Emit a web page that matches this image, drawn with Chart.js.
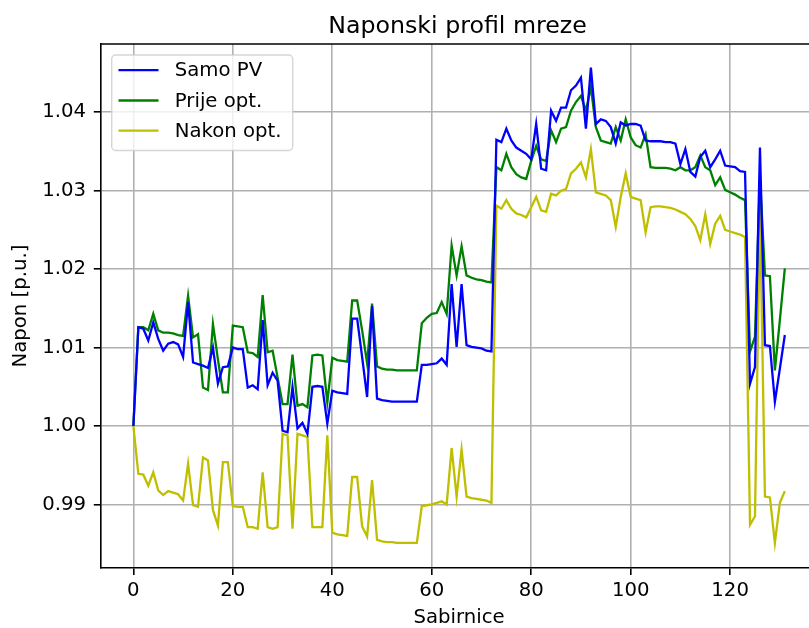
<!DOCTYPE html>
<html>
<head>
<meta charset="utf-8">
<script src="https://cdn.jsdelivr.net/npm/chart.js@4/dist/chart.umd.min.js"></script>
<style>
  html, body { margin: 0; padding: 0; background: #ffffff; overflow: hidden; }
  canvas { display: block; }
</style>
</head>
<body>
<canvas id="profil" width="820" height="628"></canvas>
<script>
// Bus numbers (Sabirnice) 0..131
const buses = Array.from({ length: 132 }, (_, i) => i);

// Voltage per bus [p.u.] - PV only
const samoPV = [
  1.0000, 1.0126, 1.0124, 1.0109, 1.0132, 1.0111, 1.0096, 1.0105, 1.0107, 1.0104,
  1.0088, 1.0158, 1.0081, 1.0079, 1.0077, 1.0074, 1.0100, 1.0054, 1.0075, 1.0076,
  1.0100, 1.0098, 1.0098, 1.0049, 1.0052, 1.0047, 1.0135, 1.0052, 1.0068, 1.0058,
  0.9994, 0.9992, 1.0050, 0.9997, 1.0004, 0.9990, 1.0050, 1.0051, 1.0050, 1.0003,
  1.0045, 1.0043, 1.0042, 1.0041, 1.0137, 1.0137, 1.0088, 1.0037, 1.0153, 1.0035,
  1.0033, 1.0032, 1.0031, 1.0031, 1.0031, 1.0031, 1.0031, 1.0031, 1.0078, 1.0078,
  1.0079, 1.0080, 1.0086, 1.0078, 1.0181, 1.0101, 1.0181, 1.0103, 1.0101, 1.0100,
  1.0099, 1.0096, 1.0095, 1.0365, 1.0362, 1.0379, 1.0364, 1.0355, 1.0351, 1.0347,
  1.0340, 1.0385, 1.0328, 1.0326, 1.0402, 1.0389, 1.0406, 1.0406, 1.0428, 1.0434,
  1.0444, 1.0379, 1.0457, 1.0385, 1.0391, 1.0389, 1.0381, 1.0360, 1.0387, 1.0383,
  1.0385, 1.0385, 1.0383, 1.0364, 1.0363, 1.0363, 1.0363, 1.0362, 1.0362, 1.0360,
  1.0334, 1.0353, 1.0324, 1.0318, 1.0343, 1.0351, 1.0330, 1.0340, 1.0351, 1.0332,
  1.0331, 1.0330, 1.0325, 1.0324, 1.0054, 1.0075, 1.0355, 1.0103, 1.0102, 1.0031,
  1.0073, 1.0116
];

// Voltage per bus [p.u.] - before optimisation
const prijeOpt = [
  1.0000, 1.0126, 1.0126, 1.0122, 1.0143, 1.0122, 1.0119, 1.0119, 1.0118, 1.0116,
  1.0115, 1.0166, 1.0113, 1.0117, 1.0049, 1.0046, 1.0130, 1.0085, 1.0043, 1.0043,
  1.0128, 1.0127, 1.0126, 1.0094, 1.0093, 1.0088, 1.0167, 1.0094, 1.0096, 1.0062,
  1.0028, 1.0028, 1.0091, 1.0026, 1.0028, 1.0024, 1.0090, 1.0091, 1.0090, 1.0030,
  1.0087, 1.0084, 1.0083, 1.0082, 1.0160, 1.0160, 1.0122, 1.0080, 1.0156, 1.0076,
  1.0073, 1.0072, 1.0072, 1.0071, 1.0071, 1.0071, 1.0071, 1.0071, 1.0131, 1.0138,
  1.0143, 1.0144, 1.0158, 1.0143, 1.0230, 1.0192, 1.0229, 1.0192, 1.0189, 1.0187,
  1.0186, 1.0184, 1.0183, 1.0330, 1.0326, 1.0347, 1.0330, 1.0321, 1.0317, 1.0315,
  1.0338, 1.0357, 1.0340, 1.0338, 1.0377, 1.0362, 1.0379, 1.0381, 1.0402, 1.0413,
  1.0421, 1.0402, 1.0432, 1.0381, 1.0364, 1.0362, 1.0360, 1.0381, 1.0364, 1.0391,
  1.0368, 1.0358, 1.0355, 1.0372, 1.0330, 1.0329, 1.0329, 1.0329, 1.0328, 1.0326,
  1.0330, 1.0326, 1.0326, 1.0330, 1.0345, 1.0330, 1.0326, 1.0307, 1.0317, 1.0301,
  1.0298, 1.0295, 1.0291, 1.0288, 1.0095, 1.0114, 1.0319, 1.0192, 1.0191, 1.0071,
  1.0135, 1.0201
];

// Voltage per bus [p.u.] - after optimisation
const nakonOpt = [
  1.0000, 0.9939, 0.9938, 0.9924, 0.9941, 0.9918, 0.9912, 0.9917, 0.9915, 0.9913,
  0.9905, 0.9952, 0.9899, 0.9897, 0.9960, 0.9956, 0.9893, 0.9873, 0.9954, 0.9954,
  0.9898, 0.9897, 0.9897, 0.9871, 0.9871, 0.9869, 0.9941, 0.9871, 0.9869, 0.9871,
  0.9990, 0.9988, 0.9869, 0.9990, 0.9988, 0.9986, 0.9871, 0.9871, 0.9871, 0.9988,
  0.9864, 0.9862, 0.9861, 0.9860, 0.9935, 0.9935, 0.9872, 0.9859, 0.9931, 0.9855,
  0.9853, 0.9852, 0.9852, 0.9851, 0.9851, 0.9851, 0.9851, 0.9851, 0.9898, 0.9899,
  0.9900, 0.9902, 0.9904, 0.9900, 0.9972, 0.9910, 0.9970, 0.9910, 0.9908, 0.9907,
  0.9906, 0.9905, 0.9902, 1.0281, 1.0277, 1.0288, 1.0277, 1.0271, 1.0269, 1.0266,
  1.0279, 1.0292, 1.0275, 1.0273, 1.0296, 1.0294, 1.0300, 1.0302, 1.0322, 1.0328,
  1.0336, 1.0317, 1.0353, 1.0298, 1.0296, 1.0294, 1.0288, 1.0254, 1.0292, 1.0322,
  1.0292, 1.0290, 1.0288, 1.0247, 1.0279, 1.0280, 1.0280, 1.0279, 1.0278, 1.0276,
  1.0273, 1.0270, 1.0264, 1.0255, 1.0237, 1.0270, 1.0232, 1.0258, 1.0268, 1.0250,
  1.0248, 1.0246, 1.0244, 1.0241, 0.9874, 0.9885, 1.0281, 0.9910, 0.9909, 0.9851,
  0.9902, 0.9917
];

const seriesLabels = ['Samo PV', 'Prije opt.', 'Nakon opt.'];
const xTicks = [0, 20, 40, 60, 80, 100, 120];
const yTicks = [0.99, 1.00, 1.01, 1.02, 1.03, 1.04];

const FONT = "'DejaVu Sans', 'Liberation Sans', sans-serif";
Chart.defaults.font.family = FONT;
Chart.defaults.font.size = 19.7;
Chart.defaults.color = '#000000';

const toPoints = vals => buses.map((b, i) => ({ x: b, y: vals[i] }));

// Title centred over the plot area
const titlePlugin = {
  id: 'plotTitle',
  afterDraw(chart) {
    const { ctx } = chart;
    ctx.save();
    ctx.font = `23.7px ${FONT}`;
    ctx.fillStyle = '#000';
    ctx.textAlign = 'center';
    ctx.textBaseline = 'alphabetic';
    ctx.fillText('Naponski profil mreze', 457.5, 33.3);
    ctx.restore();
  }
};

// Top spine of the axes frame
const framePlugin = {
  id: 'frameTop',
  afterDraw(chart) {
    const { ctx, chartArea } = chart;
    ctx.save();
    ctx.strokeStyle = '#000';
    ctx.lineWidth = 1.6;
    ctx.beginPath();
    ctx.moveTo(chartArea.left - 0.8, chartArea.top);
    ctx.lineTo(chartArea.right, chartArea.top);
    ctx.stroke();
    ctx.restore();
  }
};

// Legend box in the upper-left corner of the plot
const legendPlugin = {
  id: 'boxLegend',
  afterDatasetsDraw(chart) {
    const { ctx } = chart;
    const box = { x: 111.7, y: 55, w: 181, h: 95.5, r: 4 };
    ctx.save();
    ctx.globalAlpha = 0.8;
    ctx.fillStyle = '#ffffff';
    ctx.strokeStyle = '#cccccc';
    ctx.lineWidth = 1.4;
    ctx.beginPath();
    ctx.roundRect(box.x, box.y, box.w, box.h, box.r);
    ctx.fill();
    ctx.stroke();
    ctx.globalAlpha = 1;
    const rows = [70.2, 100.5, 130.7];
    ctx.font = `19.7px ${FONT}`;
    ctx.textAlign = 'left';
    ctx.textBaseline = 'middle';
    chart.data.datasets.forEach((ds, i) => {
      ctx.strokeStyle = ds.borderColor;
      ctx.lineWidth = ds.borderWidth;
      ctx.beginPath();
      ctx.moveTo(118.5, rows[i]);
      ctx.lineTo(158.5, rows[i]);
      ctx.stroke();
      ctx.fillStyle = '#000';
      ctx.fillText(ds.label, 174.8, rows[i] + 1);
    });
    ctx.restore();
  }
};

const line = (label, vals, color) => ({
  label,
  data: toPoints(vals),
  borderColor: color,
  backgroundColor: color,
  borderWidth: 2.3,
  pointRadius: 0,
  pointHoverRadius: 0,
  tension: 0,
  fill: false
});

new Chart(document.getElementById('profil'), {
  type: 'line',
  data: {
    datasets: [
      line(seriesLabels[0], samoPV, '#0000ff'),
      line(seriesLabels[1], prijeOpt, '#008000'),
      line(seriesLabels[2], nakonOpt, '#bfbf00')
    ]
  },
  options: {
    responsive: false,
    devicePixelRatio: 1,
    animation: false,
    layout: { padding: { left: 0, top: 44, right: 2.6, bottom: 0 } },
    plugins: {
      legend: { display: false },
      title: { display: false },
      tooltip: { enabled: false }
    },
    scales: {
      x: {
        type: 'linear',
        min: -6.55,
        max: 137.55,
        afterBuildTicks(scale) { scale.ticks = xTicks.map(v => ({ value: v })); },
        afterFit(scale) { scale.height = 60; },
        ticks: { padding: 4, maxRotation: 0, callback: v => String(v) },
        grid: { color: '#b0b0b0', lineWidth: 1.6, tickColor: '#000', tickWidth: 1.6, tickLength: 7 },
        border: { color: '#000', width: 1.6 },
        title: {
          display: true,
          text: 'Sabirnice',
          font: { size: 19.7, lineHeight: 1.0 },
          padding: { top: 0, bottom: 0.6 }
        }
      },
      y: {
        type: 'linear',
        min: 0.9819,
        max: 1.0487,
        afterBuildTicks(scale) { scale.ticks = yTicks.map(v => ({ value: v })); },
        afterFit(scale) { scale.width = 100.8; },
        ticks: { padding: 7.8, callback: v => Number(v).toFixed(2) },
        grid: { color: '#b0b0b0', lineWidth: 1.6, tickColor: '#000', tickWidth: 1.6, tickLength: 7 },
        border: { color: '#000', width: 1.6 },
        title: {
          display: true,
          text: 'Napon [p.u.]',
          font: { size: 19.7 },
          padding: { top: 9, bottom: 0 }
        }
      }
    }
  },
  plugins: [titlePlugin, framePlugin, legendPlugin]
});
</script>
</body>
</html>
